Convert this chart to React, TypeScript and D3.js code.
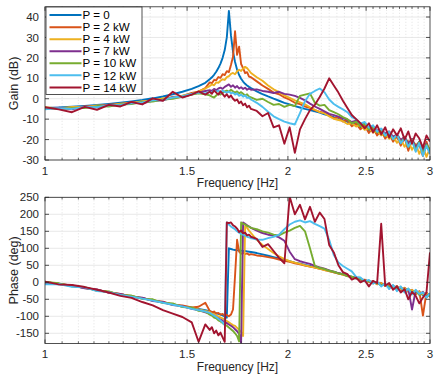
import React from "react";
import * as d3 from "d3";

// frequency grid (Hz), denser around the resonance
const freqs = [
  1.0, 1.04, 1.08, 1.12, 1.16, 1.2, 1.24, 1.28, 1.32, 1.36, 1.4, 1.44, 1.48, 1.52,
  1.55, 1.58,
  1.6, 1.61, 1.62, 1.63, 1.64, 1.65, 1.66, 1.67, 1.68, 1.69, 1.7, 1.71, 1.72, 1.73, 1.74, 1.75, 1.76, 1.77, 1.78, 1.79, 1.8,
  1.83, 1.86, 1.89, 1.92, 1.95, 1.98, 2.01, 2.04, 2.07, 2.1, 2.13, 2.16, 2.19, 2.22, 2.25, 2.28, 2.31, 2.34, 2.37, 2.4,
  2.43, 2.46, 2.49, 2.52, 2.55, 2.58, 2.61, 2.64, 2.67, 2.7, 2.73, 2.76, 2.79, 2.82, 2.85, 2.88, 2.91, 2.94, 2.97, 3.0,
];

const labels = ["P = 0", "P = 2 kW", "P = 4 kW", "P = 7 kW", "P = 10 kW", "P = 12 kW", "P = 14 kW"];
const colors = ["#0072BD", "#D95319", "#EDB120", "#7E2F8E", "#77AC30", "#4DBEEE", "#A2142F"];

// gain (dB)
const gain0 = [
  -4.5, -4.3, -3.9, -3.5, -3.0, -2.5, -1.9, -1.3, -0.6, 0.2, 1.1, 2.2, 3.4, 4.8,
  6.2, 7.8,
  9.5, 10.5, 11.7, 13.2, 15.0, 17.2, 20.0, 23.8, 30.0, 43.0, 31.0, 23.0, 18.0, 14.2, 11.6, 9.8, 8.4, 7.3, 6.5, 5.8, 5.2,
  3.6, 2.3, 1.1, 0.0, -1.0, -2.0, -2.8, -3.6, -4.3, -5.0, -5.6, -6.2, -6.8, -7.6, -8.3, -9.0, -9.4, -10.6, -11.2, -12.5,
  -12.0, -14.2, -13.5, -15.8, -14.6, -17.2, -16.0, -18.5, -17.4, -19.6, -18.2, -21.5, -19.4, -22.0, -20.5, -24.0, -21.0, -27.5, -22.5, -26.0,
];
const gain2 = [
  -4.8, -4.5, -4.6, -3.8, -3.6, -2.9, -2.6, -1.8, -1.6, -0.6, -0.2, 0.9, 1.4, 2.8,
  3.5, 5.2,
  8.0, 7.6, 9.2, 9.0, 10.6, 10.2, 12.0, 11.6, 13.5, 13.0, 16.5, 20.5, 33.0, 21.5, 25.5, 17.0, 15.0, 12.5, 13.0, 10.8, 10.5,
  8.5, 6.5, 4.8, 3.0, 2.2, 0.6, -0.5, -2.0, -2.6, -3.8, -4.5, -5.6, -6.4, -7.0, -8.2, -9.6, -9.0, -11.2, -10.5, -13.5,
  -12.2, -15.0, -13.0, -16.8, -14.0, -18.0, -15.5, -19.5, -17.0, -21.0, -18.5, -23.0, -19.0, -25.5, -20.0, -24.0, -22.5, -28.0, -21.0, -26.5,
];
const gain4 = [
  -4.2, -4.8, -4.0, -4.2, -3.3, -3.4, -2.4, -2.2, -1.2, -1.0, 0.2, 0.4, 1.5, 2.4,
  3.6, 5.0,
  6.2, 7.0, 6.6, 8.0, 7.8, 8.8, 9.5, 9.2, 10.6, 11.0, 12.2, 12.6, 12.0, 13.4, 14.2, 13.6, 14.8, 15.6, 15.0, 13.8, 12.6,
  10.5, 8.8, 6.5, 4.6, 3.2, 1.6, 0.4, -0.8, -1.8, -2.8, -4.2, -5.4, -6.6, -7.2, -8.6, -9.8, -10.4, -11.0, -12.4, -12.0,
  -13.6, -12.8, -15.2, -14.4, -16.6, -15.8, -18.0, -17.0, -19.6, -18.4, -21.6, -19.8, -23.5, -20.6, -25.0, -22.0, -27.0, -23.0, -28.5, -24.0,
];
const gain7 = [
  -4.6, -4.4, -5.2, -3.9, -4.0, -3.0, -3.3, -2.0, -2.2, -1.0, -0.8, 0.6, 0.8, 2.2,
  3.0, 3.8,
  4.2, 3.8, 4.8, 4.2, 5.0, 5.4, 4.8, 5.8, 6.4, 7.0, 5.8, 6.6, 5.4, 6.2, 5.0, 5.6, 4.8, 5.4, 4.4, 5.0, 4.4,
  4.6, 3.8, 3.4, 2.8, 3.4, 2.4, 2.0, 1.4, 0.4, -0.8, -2.4, -3.8, -5.0, -6.2, -7.4, -8.0, -8.8, -9.6, -10.2, -11.4,
  -10.8, -12.6, -12.0, -14.2, -13.4, -15.6, -14.8, -17.2, -16.0, -18.6, -17.4, -20.2, -18.6, -21.8, -19.6, -23.5, -21.0, -25.5, -22.0, -27.0,
];
const gain10 = [
  -4.4, -5.0, -4.6, -4.6, -3.6, -3.8, -2.8, -2.6, -1.6, -1.4, -0.4, 0.0, 1.0, 2.0,
  2.6, 2.2,
  1.6, 1.0, 0.6, 1.6, 2.6, 2.0, 3.0, 3.6, 4.0, 3.4, 4.4, 3.6, 3.0, 3.6, 2.6, 3.2, 2.4, 1.6, 2.2, 1.0, 0.6,
  -0.6, 0.0, -1.6, -3.0, -2.6, -4.0, -3.0, -3.6, 1.4, 2.0, 2.6, -2.0, -3.4, -3.0, -5.6, -6.6, -7.6, -9.0, -10.0, -12.0,
  -11.2, -13.4, -12.2, -15.0, -13.8, -16.4, -15.0, -18.2, -16.4, -19.8, -17.6, -21.6, -18.8, -23.6, -20.0, -25.4, -21.0, -27.0, -22.4, -25.0,
];
const gain12 = [
  -5.2, -4.6, -5.0, -4.0, -4.2, -3.2, -3.0, -2.2, -1.8, -0.8, -0.6, 0.6, 1.2, 2.4,
  3.0, 2.6,
  3.4, 3.0, 4.0, 3.4, 4.0, 3.0, 4.0, 3.4, 3.0, 3.6, 2.6, 3.0, 2.0, 2.6, 1.4, 2.0, 1.0, 1.6, 0.4, 0.6, -0.4,
  -2.0, -4.0, -6.4, -8.6, -10.0, -11.2, -12.0, -12.6, -7.0, -1.2, 2.4, 3.8, 5.0, 3.2, -0.4, -2.6, -4.0, -5.2, -6.6, -9.0,
  -10.0, -12.2, -11.4, -14.2, -13.0, -16.2, -14.6, -18.0, -16.2, -19.8, -17.6, -21.8, -19.2, -23.5, -20.4, -26.0, -21.6, -28.0, -23.0, -27.0,
];
const gain14 = [
  -4.2, -5.2, -6.6, -4.0, -5.4, -3.0, -3.8, -1.6, -2.8, 0.2, -1.0, 3.4, 0.6, 2.0,
  3.6, 2.0,
  3.4, 2.4, 4.0, 3.0, 2.0, 3.6, 2.4, 1.0, 2.2, 0.6, 1.6, 0.0, -1.0, -0.4, -2.2, -1.4, -3.2, -2.4, -4.2, -3.4, -5.0,
  -6.0, -8.6, -7.0, -14.0, -13.0, -22.0, -14.0, -26.5, -15.0, -10.0, -5.6, -3.0, 0.8, 5.0, 10.0, 6.5, 3.0, -1.0, -4.5, -8.0,
  -10.0, -12.0, -14.5, -12.0, -16.5, -13.0, -17.5, -14.0, -19.0, -15.0, -18.0, -14.5, -20.0, -16.0, -22.0, -17.0, -19.5, -24.0, -18.0, -21.0,
];

// phase (deg)
const phase0 = [
  0, -4, -10, -16, -23, -29, -35, -41, -47, -53, -59, -65, -70, -75,
  -78, -82,
  -85, -87, -89, -91, -93, -95, -97, -100, -104, 100, 98, 96, 95, 94, 94, 93, 92, 92, 91, 90, 89,
  86, 82, 78, 74, 70, 66, 62, 58, 55, 51, 48, 44, 41, 38, 34, 30, 27, 24, 20, 16,
  13, 8, 7, 1, 2, -5, -3, -10, -8, -16, -12, -22, -18, -27, -24, -33, -28, -38, -32, -40,
];
const phase2 = [
  2, -5, -9, -17, -22, -30, -34, -42, -46, -54, -57, -66, -68, -74,
  -72, -60,
  -84, -88, -86, -92, -90, -95, -93, -98, -96, -100, -95, -80, 20, 125, 90, 84, 87, 83, 85, 81, 83,
  79, 77, 74, 71, 67, 63, 60, 56, 53, 49, 46, 43, 40, 36, 33, 29, 26, 23, 19, 15,
  14, 7, 8, 0, 3, -6, -2, -11, -7, -17, -11, -23, -16, -28, -22, -35, -26, -98, -30, -44,
];
const phase4 = [
  0, -4, -11, -15, -24, -28, -36, -40, -48, -52, -60, -64, -72, -76,
  -80, -84,
  -88, -92, -94, -98, -100, -104, -106, -110, -114, -118, -122, -126, -128, -134, -140, -146, -158, 165, 160, 152, 145,
  125, 110, 98, 86, 76, 68, 62, 58, 54, 50, 46, 43, 40, 36, 33, 29, 26, 22, 19, 15,
  13, 8, 6, 1, 1, -5, -3, -10, -9, -15, -13, -21, -18, -26, -23, -31, -28, -36, -33, -40,
];
const phase7 = [
  -2, -6, -9, -18, -21, -31, -34, -43, -45, -55, -58, -67, -70, -78,
  -82, -88,
  -92, -96, -99, -103, -106, -110, -113, -117, -120, -124, -128, -132, -138, -144, -152, -178, 176, 172, 168, 164, 160,
  152, 145, 140, 138, 132, 122, 90, 68, 62, 58, 54, 48, 44, 40, 35, 31, 27, 24, 19, 16,
  12, 9, 5, 3, -2, -2, -8, -6, -14, -10, -19, -15, -25, -20, -80, -24, -36, -28, -42, -33,
];
const phase10 = [
  1, -3, -12, -14, -25, -27, -38, -39, -49, -50, -61, -62, -73, -74,
  -84, -86,
  -95, -98, -104, -106, -112, -115, -120, -124, -128, -133, -138, -143, -150, -158, -174, 176, 172, 170, 166, 164, 160,
  156, 150, 146, 140, 138, 146, 152, 160, 166, 150, 100, 48, 42, 39, 34, 31, 26, 24, 18, 17,
  11, 10, 4, 4, -3, -1, -9, -5, -15, -10, -20, -14, -26, -19, -32, -24, -37, -30, -44, -34,
];
const phase12 = [
  -6, -5, -13, -15, -26, -29, -37, -42, -48, -54, -60, -66, -71, -78,
  -82, -86,
  -90, -94, -98, -102, -107, -112, -118, -126, 176, 170, 164, 160, 156, 150, 146, 142, 140, 137, 134, 132, 130,
  126, 125, 130, 134, 140, 156, 170, 178, 182, 176, 180, 172, 165, 158, 125, 80, 58, 48, 40, 32,
  16, 14, 3, 7, -4, 2, -12, -3, -20, -8, -26, -12, -30, -18, -36, -22, -34, -30, -45, -32,
];
const phase14 = [
  2, -6, -8, -14, -22, -30, -40, -46, -58, -68, -82, -92, -102, -118,
  -175, -124,
  -140, -132, -150, -142, -156, -148, -162, -175, 176, 174, 176, 168, 164, 158, 148, 152, 144, 146, 138, 140, 134,
  128, 104, 112, 92, 72, 56, 252, 200, 228, 185, 222, 178, 205, 186, 110, 88, 50, 30, 24, 8,
  14, 0, 6, -12, 4, -2, 172, -10, -2, -22, -12, -30, -20, -50, -28, -40, -62, -45, -30, 88,
];

const gainSeries = [gain0, gain2, gain4, gain7, gain10, gain12, gain14];
const phaseSeries = [phase0, phase2, phase4, phase7, phase10, phase12, phase14];

const xMajor = [1, 1.5, 2, 2.5, 3];
const gainTicks = [-30, -20, -10, 0, 10, 20, 30, 40];
const phaseTicks = [-150, -100, -50, 0, 50, 100, 150, 200, 250];

const W = 436;
const H = 375;
const left = 45;
const right = 430;
const FONT = "'Liberation Sans', Arial, Helvetica, sans-serif";
const INK = "#262626";

const x = d3.scaleLog().domain([1, 3]).range([left, right]);
const xMinor = d3.range(21, 60).map((i) => i * 0.05).filter((v) => Math.abs(v * 2 - Math.round(v * 2)) > 1e-6);

type PanelProps = {
  id: string;
  y: d3.ScaleLinear<number, number>;
  ticks: number[];
  series: number[][];
  ylabel: string;
  legend?: boolean;
};

const Panel = ({ id, y, ticks, series, ylabel, legend }: PanelProps) => {
  const [y0, y1] = y.range(); // bottom, top
  const line = d3
    .line<number>()
    .defined((d) => d != null && !isNaN(d))
    .x((_, i) => x(freqs[i]))
    .y((d) => y(d));

  return (
    <g>
      <defs>
        <clipPath id={id}>
          <rect x={left} y={y1} width={right - left} height={y0 - y1} />
        </clipPath>
      </defs>
      <rect x={left} y={y1} width={right - left} height={y0 - y1} fill="#fff" />
      {/* minor grid */}
      {xMinor.map((v) => (
        <line key={"mg" + v} x1={x(v)} x2={x(v)} y1={y1} y2={y0} stroke="#cfcfcf" strokeWidth={0.6} strokeDasharray="1,2" />
      ))}
      {/* major grid */}
      {xMajor.slice(1, -1).map((v) => (
        <line key={"gx" + v} x1={x(v)} x2={x(v)} y1={y1} y2={y0} stroke="#e2e2e2" strokeWidth={0.8} />
      ))}
      {ticks.map((t) => (
        <line key={"gy" + t} x1={left} x2={right} y1={y(t)} y2={y(t)} stroke="#e2e2e2" strokeWidth={0.8} />
      ))}
      {/* data */}
      <g clipPath={`url(#${id})`}>
        {series.map((s, k) => (
          <path key={k} d={line(s) || ""} fill="none" stroke={colors[k]} strokeWidth={1.9} strokeLinejoin="round" />
        ))}
      </g>
      {/* box and ticks */}
      <rect x={left} y={y1} width={right - left} height={y0 - y1} fill="none" stroke={INK} strokeWidth={0.8} />
      {xMajor.map((v) => (
        <g key={"tx" + v}>
          <line x1={x(v)} x2={x(v)} y1={y0} y2={y0 - 4} stroke={INK} strokeWidth={0.8} />
          <line x1={x(v)} x2={x(v)} y1={y1} y2={y1 + 4} stroke={INK} strokeWidth={0.8} />
          <text x={x(v)} y={y0 + 14.5} textAnchor="middle" fontSize={11.5} fill={INK}>
            {v}
          </text>
        </g>
      ))}
      {xMinor.map((v) => (
        <g key={"tm" + v}>
          <line x1={x(v)} x2={x(v)} y1={y0} y2={y0 - 2.2} stroke={INK} strokeWidth={0.7} />
          <line x1={x(v)} x2={x(v)} y1={y1} y2={y1 + 2.2} stroke={INK} strokeWidth={0.7} />
        </g>
      ))}
      {ticks.map((t) => (
        <g key={"ty" + t}>
          <line x1={left} x2={left + 4} y1={y(t)} y2={y(t)} stroke={INK} strokeWidth={0.8} />
          <line x1={right} x2={right - 4} y1={y(t)} y2={y(t)} stroke={INK} strokeWidth={0.8} />
          <text x={39} y={y(t)} dy="0.36em" textAnchor="end" fontSize={11.5} fill={INK}>
            {t}
          </text>
        </g>
      ))}
      <text x={(left + right) / 2} y={y0 + 27} textAnchor="middle" fontSize={12} fill={INK}>
        Frequency [Hz]
      </text>
      <text
        transform={`translate(17.5, ${(y0 + y1) / 2}) rotate(-90)`}
        textAnchor="middle"
        fontSize={12.5}
        fill={INK}
      >
        {ylabel}
      </text>
      {legend && (
        <g>
          <rect x={46} y={7} width={96} height={87.5} fill="#fff" stroke={INK} strokeWidth={0.8} />
          {labels.map((lab, k) => (
            <g key={lab}>
              <line x1={49.5} x2={81.5} y1={15.1 + k * 12.05} y2={15.1 + k * 12.05} stroke={colors[k]} strokeWidth={2} />
              <text x={82.5} y={15.1 + k * 12.05} dy="0.36em" fontSize={11.6} fill="#000">
                {lab}
              </text>
            </g>
          ))}
        </g>
      )}
    </g>
  );
};

export default function App() {
  const yGain = d3.scaleLinear().domain([-30, 45]).range([160, 6.8]);
  const yPhase = d3.scaleLinear().domain([-180, 250]).range([343.5, 197.3]);
  return (
    <svg
      width={W}
      height={H}
      style={{ position: "absolute", left: 0, top: 0, fontFamily: FONT }}
    >
      <rect width={W} height={H} fill="#fff" />
      <Panel id="clipGain" y={yGain} ticks={gainTicks} series={gainSeries} ylabel="Gain (dB)" legend />
      <Panel id="clipPhase" y={yPhase} ticks={phaseTicks} series={phaseSeries} ylabel="Phase (deg)" />
    </svg>
  );
}
